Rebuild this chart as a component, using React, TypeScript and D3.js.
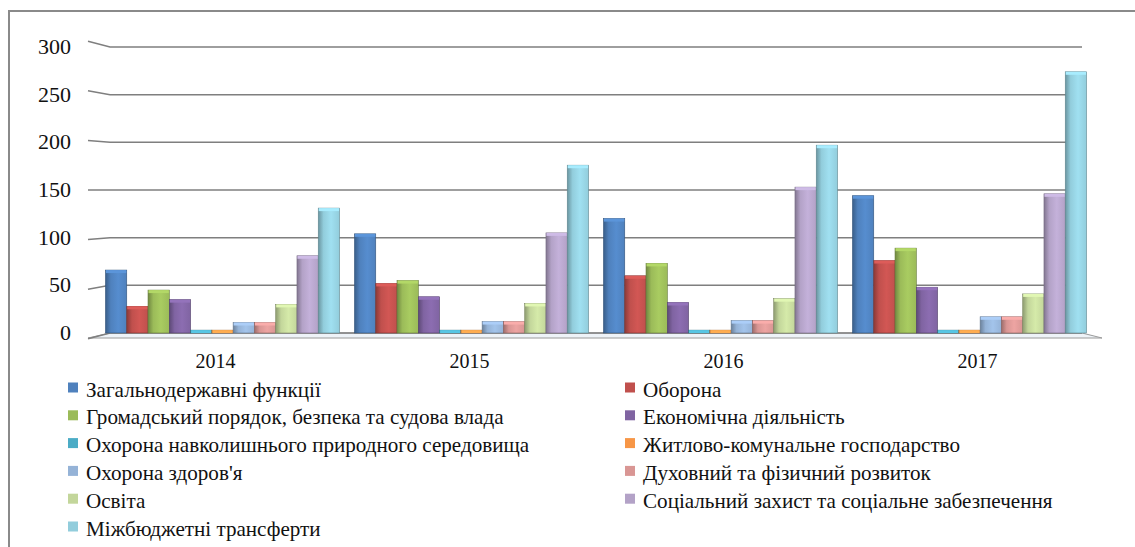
import React from 'react';
import * as d3 from 'd3';

// years on the x axis
const years = ['2014', '2015', '2016', '2017'];

// budget functions (legend order)
const seriesNames = [
  'Загальнодержавні функції',
  'Оборона',
  'Громадський порядок, безпека та судова влада',
  'Економічна діяльність',
  'Охорона навколишнього природного середовища',
  'Житлово-комунальне господарство',
  "Охорона здоров'я",
  'Духовний та фізичний розвиток',
  'Освіта',
  'Соціальний захист та соціальне забезпечення',
  'Міжбюджетні трансферти',
];

// values per series, one per year
const zagalni = [66, 104, 120, 144];
const oborona = [28, 52, 60, 76];
const gromadskyi = [45, 55, 73, 89];
const ekonomichna = [35, 38, 32, 48];
const okhoronaSeredovyshcha = [3, 3, 3, 3];
const zhytlovo = [3, 3, 3, 3];
const okhoronaZdorovia = [11, 12, 13, 17];
const dukhovnyi = [11, 12, 13, 17];
const osvita = [30, 31, 36, 41];
const sotsialnyi = [81, 105, 153, 146];
const mizhbiudzhetni = [131, 176, 197, 274];

const seriesValues = [
  zagalni, oborona, gromadskyi, ekonomichna, okhoronaSeredovyshcha, zhytlovo,
  okhoronaZdorovia, dukhovnyi, osvita, sotsialnyi, mizhbiudzhetni,
];

const yTicks = [0, 50, 100, 150, 200, 250, 300];

const colors = [
  '#4F81BD', '#C0504D', '#9BBB59', '#8064A2', '#4BACC6', '#F79646',
  '#95B3D7', '#D99694', '#C3D69B', '#B3A2C7', '#92CDDC',
];

const W = 1135;
const H = 547;
const font = 'Liberation Serif';

const App: React.FC = () => {
  const y = d3.scaleLinear().domain([0, 300]).range([333, 47]);
  const x0 = d3.scaleBand().domain(years).range([98, 1094]).paddingInner(0.06).paddingOuter(0.03);
  const x1 = d3.scaleBand().domain(d3.range(seriesNames.length).map(String)).range([0, x0.bandwidth()]);

  const gridLeft = 110;
  const gridRight = 1082;
  const yc = y(150);

  // year labels sit on the front edge of the 3d floor, so they spread a bit wider
  const labelX = (yr: string) => {
    const c = x0(yr)! + x0.bandwidth() / 2;
    return c + (c - 572) * 0.02;
  };

  return (
    <svg width={W} height={H} style={{ position: 'absolute', left: 0, top: 0, background: '#fff' }}>
      <defs>
        {colors.map((c, i) => {
          const dark = d3.color(c)!.darker(0.9).formatHex();
          const light = d3.color(c)!.brighter(0.25).formatHex();
          return (
            <linearGradient key={i} id={`g${i}`} x1="0" x2="1" y1="0" y2="0">
              <stop offset="0%" stopColor={dark} />
              <stop offset="25%" stopColor={c} />
              <stop offset="60%" stopColor={light} />
              <stop offset="100%" stopColor={c} />
            </linearGradient>
          );
        })}
      </defs>

      {/* outer chart border */}
      <rect x={9} y={11} width={W + 20} height={H + 20} fill="none" stroke="#8a8a8a" strokeWidth={2} />

      {/* floor */}
      <polygon
        points={`88,${y(0) + 5} ${gridLeft},${y(0)} ${gridRight},${y(0)} 1102,${y(0) + 5}`}
        fill="#eef3f8"
        stroke="#9a9a9a"
        strokeWidth={1}
      />

      {/* gridlines with side wall slant */}
      {yTicks.map((t) => {
        const gy = y(t);
        const ly = yc + (gy - yc) * 1.04;
        return (
          <g key={t}>
            <path d={`M88,${ly} L${gridLeft},${gy} L${gridRight},${gy}`} fill="none" stroke="#7f7f7f" strokeWidth={1.5} />
            <text x={71} y={gy + 7} textAnchor="end" fontFamily={font} fontSize={22} fill="#111">
              {t}
            </text>
          </g>
        );
      })}

      {/* bars */}
      {years.map((yr, yi) => (
        <g key={yr} transform={`translate(${x0(yr)},0)`}>
          {seriesValues.map((vals, si) => {
            const bx = x1(String(si))!;
            const bw = x1.bandwidth();
            const top = y(vals[yi]);
            const h = y(0) - top;
            return (
              <g key={si}>
                <rect x={bx} y={top} width={bw} height={h} fill={`url(#g${si})`} stroke={d3.color(colors[si])!.darker(1.2).formatHex()} strokeWidth={0.6} />
                <rect x={bx + 0.5} y={top} width={bw - 1} height={Math.min(3, h)} fill={d3.color(colors[si])!.brighter(0.4).formatHex()} />
              </g>
            );
          })}
        </g>
      ))}

      {/* x labels */}
      {years.map((yr) => (
        <text key={yr} x={labelX(yr)} y={368} textAnchor="middle" fontFamily={font} fontSize={20} fill="#111">
          {yr}
        </text>
      ))}

      {/* legend */}
      {seriesNames.map((name, i) => {
        const col = i % 2;
        const row = Math.floor(i / 2);
        const lx = col === 0 ? 68 : 625;
        const ly = 396.5 + row * 27.8;
        return (
          <g key={name}>
            <rect x={lx} y={ly - 14} width={10} height={10} fill={colors[i]} />
            <g transform={`translate(${lx + 18},${ly}) scale(0.96,1)`}>
              <text x={0} y={0} fontFamily={font} fontSize={22} fill="#111">
                {name}
              </text>
            </g>
          </g>
        );
      })}
    </svg>
  );
};

export default App;
